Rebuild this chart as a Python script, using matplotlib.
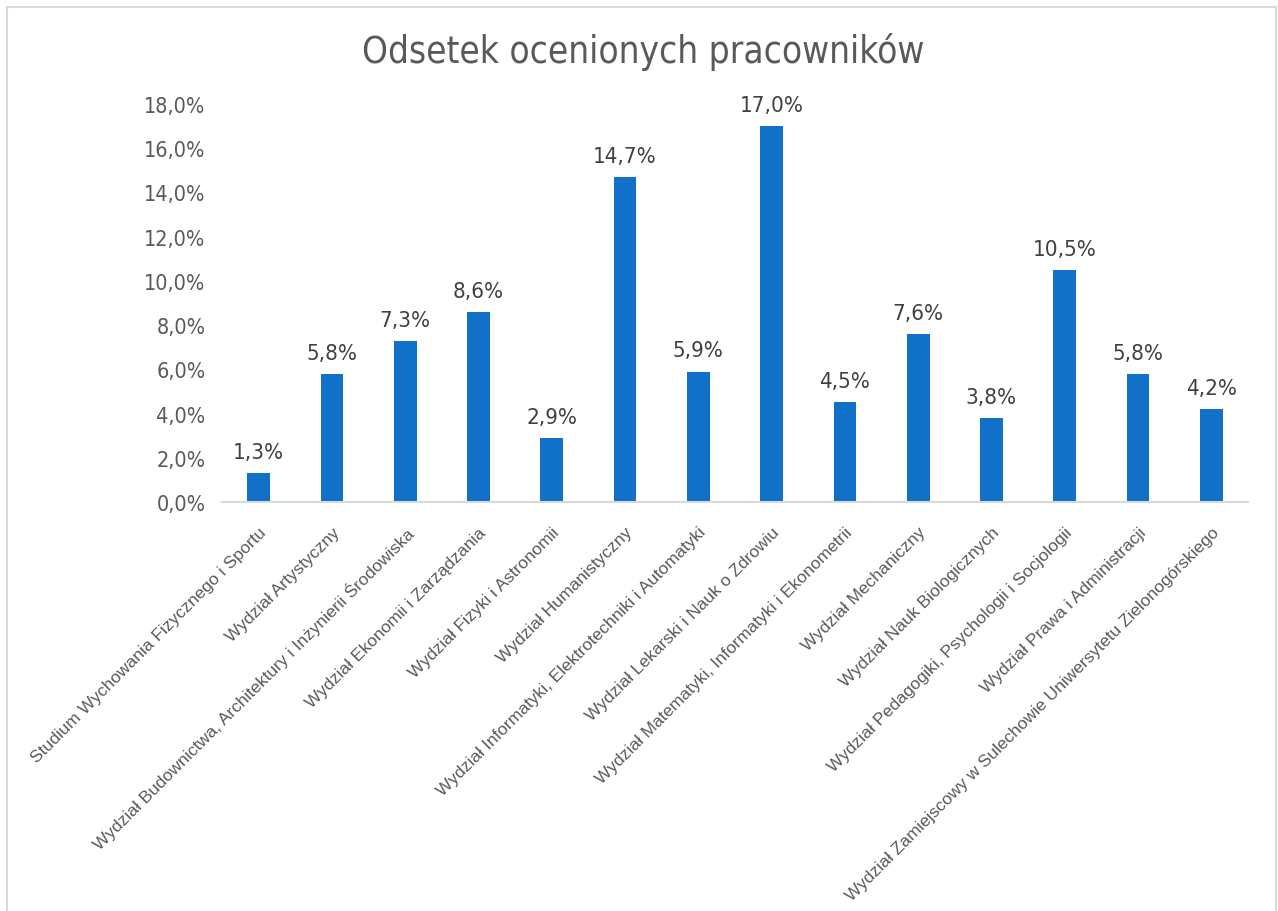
import numpy as np
import matplotlib.pyplot as plt
from matplotlib.lines import Line2D

# dane --------------------------------
wydzialy = [
    'Studium Wychowania Fizycznego i Sportu',
    'Wydział Artystyczny',
    'Wydział Budownictwa, Architektury i Inżynierii Środowiska',
    'Wydział Ekonomii i Zarządzania',
    'Wydział Fizyki i Astronomii',
    'Wydział Humanistyczny',
    'Wydział Informatyki, Elektrotechniki i Automatyki',
    'Wydział Lekarski i Nauk o Zdrowiu',
    'Wydział Matematyki, Informatyki i Ekonometrii',
    'Wydział Mechaniczny',
    'Wydział Nauk Biologicznych',
    'Wydział Pedagogiki, Psychologii i Socjologii',
    'Wydział Prawa i Administracji',
    'Wydział Zamiejscowy w Sulechowie Uniwersytetu Zielonogórskiego',
]
odsetek = [1.3, 5.8, 7.3, 8.6, 2.9, 14.7, 5.9, 17.0, 4.5, 7.6, 3.8, 10.5, 5.8, 4.2]
yticks = [0, 2, 4, 6, 8, 10, 12, 14, 16, 18]

szary = '#595959'
niebieski = '#1170C7'
num_font = ['DejaVu Sans']

fig = plt.figure(figsize=(12.78, 9.12), dpi=100)
ax = fig.add_axes([0.1737, 0.4485, 0.8028, 0.4364])

x = np.arange(len(odsetek))
ax.bar(x, odsetek, width=0.31, color=niebieski)
ax.set_xlim(-0.5, len(odsetek) - 0.5)
ax.set_ylim(0, 18)

# etykiety danych nad słupkami
for xi, v in zip(x, odsetek):
    ax.text(xi, v + 0.5, f'{v:.1f}%'.replace('.', ','), ha='center', va='bottom',
            fontsize=16, color='#404040', family=num_font, fontstretch='condensed')

ax.set_yticks(yticks)
ax.set_yticklabels([f'{t:.1f}%'.replace('.', ',') for t in yticks],
                   fontsize=15.5, color=szary, family=num_font, fontstretch='condensed')
ax.set_xticks(x)
ax.set_xticklabels(wydzialy, rotation=45, ha='right', rotation_mode='anchor',
                   fontsize=12.5, color=szary, family='Liberation Sans')
ax.tick_params(axis='both', length=0)
ax.tick_params(axis='y', pad=12)
ax.tick_params(axis='x', pad=16)

for s in ['top', 'right', 'left']:
    ax.spines[s].set_visible(False)
ax.spines['bottom'].set_color('#D9D9D9')
ax.spines['bottom'].set_linewidth(1.5)

fig.text(0.503, 0.943, 'Odsetek ocenionych pracowników', ha='center', va='center',
         fontsize=26.5, color=szary, family=num_font, fontstretch='condensed')

# ramka wykresu
W, H = 1278, 912
fig.add_artist(Line2D([7 / W, 7 / W], [0, 1 - 8 / H], color='#D9D9D9', lw=1.5))
fig.add_artist(Line2D([7 / W, 1276 / W], [1 - 8 / H, 1 - 8 / H], color='#D9D9D9', lw=1.5))
fig.add_artist(Line2D([1276 / W, 1276 / W], [0, 1 - 8 / H], color='#D9D9D9', lw=1.5))

fig.savefig('out.png', dpi=100)
